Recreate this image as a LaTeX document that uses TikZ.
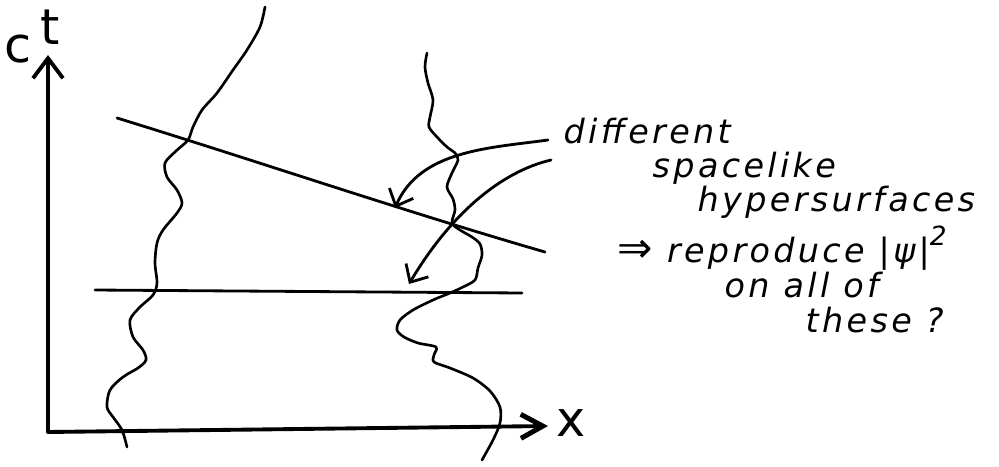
\documentclass[tikz,border=0pt]{standalone}
\usepackage{fontspec}
\setmainfont{DejaVu Sans}
\newfontfamily\handfont[LetterSpace=10]{DejaVu Sans}
\usepackage{tikz}
\usetikzlibrary{arrows.meta,positioning}

\begin{document}
\begin{tikzpicture}[
    x=0.01cm, y=-0.01cm,
    axis/.style={line width=1.1pt, line cap=round},
    worldline/.style={line width=0.75pt, line cap=round, line join=round},
    surface/.style={line width=0.8pt, line cap=round},
    pointer/.style={line width=0.8pt, line cap=round,
        -{Straight Barb[length=1.4mm, width=2.6mm, line width=0.8pt]}},
    hand/.style={font=\handfont\fontsize{9.5}{11}\selectfont\itshape, inner sep=0pt,
        anchor=base west},
    axlbl/.style={font=\fontsize{14}{16}\selectfont, inner sep=0pt, anchor=base}
]
\useasboundingbox (0,0) rectangle (999,466);

% axes
\coordinate (origin) at (48,432);
\coordinate (ttop) at (48,55);
\coordinate (xend) at (548,426);
\draw[axis, -{Straight Barb[length=2mm, width=3mm, line width=1.1pt]}] (origin) -- (ttop);
\draw[axis, -{Straight Barb[length=2.2mm, width=2.4mm, line width=1.4pt]}] (origin) -- (xend);
\node[axlbl] (clbl) at (18,62) {c};
\node[axlbl] (tlbl) at (50,44) {t};
\node[axlbl] (xlbl) at (571,436) {x};

% spacelike hypersurfaces
\coordinate (s1a) at (117,118);
\coordinate (s1b) at (545,252);
\coordinate (s2a) at (95,290);
\coordinate (s2b) at (522,293);
\draw[surface] (s1a) .. controls (260,162) and (400,210) .. (s1b);
\draw[surface] (s2a) -- (s2b);

% worldlines
\draw[worldline] plot[smooth] coordinates {
    (265,7) (260,27) (247,50) (233,70) (217,93) (202,110) (193,127)
    (188,140) (176,151) (165,163) (167,177) (177,190) (182,203)
    (177,213) (163,230) (157,243) (155,263) (157,283) (153,295)
    (140,307) (130,320) (133,337) (143,350) (146,360) (138,368)
    (123,377) (110,390) (107,407) (113,417) (122,430) (127,447)};
\draw[worldline] plot[smooth] coordinates {
    (427,53) (425,67) (428,83) (433,100) (430,117) (429,127) (437,137)
    (447,147) (455,153) (458,160) (452,173) (447,187) (453,199)
    (455,210) (452,223) (460,230) (472,237) (480,244) (482,255)
    (478,268) (475,280) (463,287) (450,293) (433,300) (413,310)
    (400,320) (397,330) (404,337) (418,343) (436,347) (434,355)
    (434,362) (450,368) (473,378) (490,391) (500,407) (500,423)
    (493,440) (482,460)};

% labels
\node[hand] (diff) at (563,143) {different};
\node[hand] (spacel) at (652,177) {spacelike};
\node[hand] (hyper) at (697,211) {hypersurfaces};
\node[hand] (repro) at (617,262) {{\upshape\fontsize{12}{12}\selectfont⇒} reproduce |ψ|\raisebox{0.9ex}{\fontsize{7.5}{8}\selectfont 2}};
\node[hand] (onall) at (724,297) {on all of};
\node[hand] (these) at (805,332) {these ?};

% pointers
\coordinate (armA) at (548,140);
\coordinate (armB) at (551,160);
\coordinate (tipA) at (395,208);
\coordinate (tipB) at (409,284);
\draw[pointer] (armA) .. controls (490,148) and (420,150) .. (tipA);
\draw[pointer] (armB) .. controls (500,172) and (450,215) .. (tipB);

\end{tikzpicture}
\end{document}
